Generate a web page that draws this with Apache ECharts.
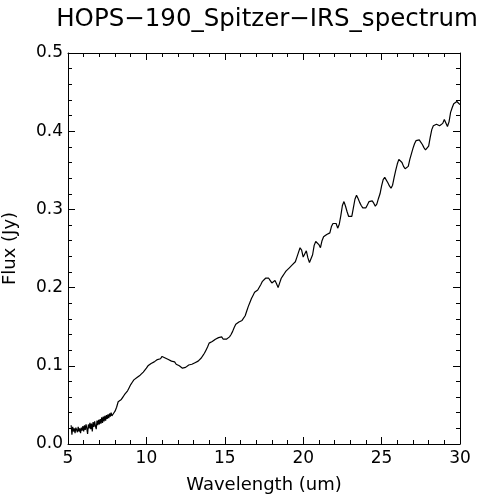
<!DOCTYPE html>
<html>
<head>
<meta charset="utf-8">
<script src="https://cdn.jsdelivr.net/npm/echarts@6/dist/echarts.min.js"></script>
<style>
  html, body { margin: 0; padding: 0; background: #fff; }
  #chart { width: 479px; height: 500px; }
</style>
</head>
<body>
<div id="chart"></div>
<script>
var titleText = 'HOPS\u2212190_Spitzer\u2212IRS_spectrum';
var xName = 'Wavelength (um)';
var yName = 'Flux (Jy)';

// wavelength in um
var wavelength = [
  5.20,5.25,5.30,5.35,5.40,5.45,5.50,5.55,5.60,5.65,5.70,5.75,5.80,5.85,5.90,5.95,
  6.00,6.05,6.10,6.15,6.20,6.25,6.30,6.35,6.40,6.45,6.50,6.55,6.60,6.65,6.70,6.75,6.80,6.85,6.90,6.95,
  7.00,7.05,7.10,7.15,7.20,7.25,7.30,7.35,7.40,7.45,7.50,7.55,7.60,7.65,7.70,7.75,7.80,7.85,7.90,7.95,
  8.0,8.1,8.2,8.3,8.4,8.5,8.6,8.7,8.8,8.9,
  9.0,9.1,9.2,9.3,9.4,9.5,9.6,9.7,9.8,9.9,
  10.0,10.1,10.2,10.3,10.4,10.5,10.6,10.7,10.8,10.9,
  11.0,11.1,11.2,11.3,11.4,11.5,11.6,11.7,11.8,11.9,
  12.0,12.1,12.2,12.3,12.4,12.5,12.6,12.7,12.8,12.9,
  13.0,13.1,13.2,13.3,13.4,13.5,13.6,13.7,13.8,13.9,
  14.0,14.1,14.2,14.3,14.4,14.5,14.6,14.7,14.8,14.9,
  15.0,15.1,15.2,15.3,15.4,15.5,15.6,15.7,15.8,15.9,
  16.0,16.1,16.2,16.3,16.4,16.5,16.6,16.7,16.8,16.9,
  17.0,17.1,17.2,17.3,17.4,17.5,17.6,17.7,17.8,17.9,
  18.0,18.1,18.2,18.3,18.4,18.5,18.6,18.7,18.8,18.9,
  19.0,19.1,19.2,19.3,19.4,19.5,19.6,19.7,19.8,19.9,
  20.0,20.1,20.2,20.3,20.4,20.5,20.6,20.7,20.8,20.9,
  21.0,21.1,21.2,21.3,21.4,21.5,21.6,21.7,21.8,21.9,
  22.0,22.1,22.2,22.3,22.4,22.5,22.6,22.7,22.8,22.9,
  23.0,23.1,23.2,23.3,23.4,23.5,23.6,23.7,23.8,23.9,
  24.0,24.1,24.2,24.3,24.4,24.5,24.6,24.7,24.8,24.9,
  25.0,25.1,25.2,25.3,25.4,25.5,25.6,25.7,25.8,25.9,
  26.0,26.1,26.2,26.3,26.4,26.5,26.6,26.7,26.8,26.9,
  27.0,27.1,27.2,27.3,27.4,27.5,27.6,27.7,27.8,27.9,
  28.0,28.1,28.2,28.3,28.4,28.5,28.6,28.7,28.8,28.9,
  29.0,29.1,29.2,29.3,29.4,29.5,29.6,29.7,29.8,29.9,30.0
];

// flux in Jy
var flux = [
  0.024,0.012,0.022,0.016,0.020,0.014,0.021,0.018,0.015,0.022,0.016,0.020,0.014,0.021,0.017,0.023,
  0.016,0.024,0.018,0.025,0.020,0.013,0.025,0.020,0.027,0.019,0.026,0.016,0.028,0.022,0.029,0.023,0.019,0.030,0.024,0.031,
  0.025,0.032,0.026,0.034,0.027,0.035,0.029,0.036,0.030,0.037,0.032,0.038,0.033,0.039,0.035,0.040,0.036,0.038,0.039,0.041,
  0.042,0.047,0.054,0.056,0.057,0.060,0.063,0.065,0.068,0.072,
  0.076,0.079,0.082,0.083,0.085,0.086,0.088,0.089,0.092,0.094,
  0.097,0.100,0.102,0.103,0.104,0.105,0.107,0.108,0.110,0.109,
  0.112,0.111,0.110,0.109,0.108,0.107,0.106,0.104,0.105,0.102,
  0.101,0.100,0.098,0.097,0.099,0.098,0.100,0.101,0.100,0.102,
  0.103,0.104,0.106,0.106,0.108,0.110,0.113,0.116,0.120,0.124,
  0.129,0.131,0.131,0.132,0.134,0.135,0.136,0.137,0.137,0.134,
  0.133,0.134,0.136,0.137,0.140,0.144,0.149,0.153,0.155,0.156,
  0.157,0.158,0.160,0.164,0.170,0.176,0.181,0.186,0.190,0.194,
  0.196,0.197,0.199,0.204,0.208,0.210,0.212,0.213,0.212,0.209,
  0.206,0.207,0.209,0.205,0.200,0.206,0.212,0.215,0.218,0.221,
  0.223,0.225,0.227,0.229,0.231,0.233,0.239,0.245,0.251,0.248,
  0.239,0.241,0.247,0.238,0.232,0.231,0.242,0.254,0.259,0.260,
  0.255,0.251,0.260,0.265,0.267,0.268,0.268,0.270,0.278,0.282,
  0.284,0.282,0.276,0.281,0.292,0.305,0.310,0.304,0.297,0.291,
  0.289,0.291,0.302,0.313,0.318,0.314,0.309,0.305,0.302,0.300,
  0.302,0.306,0.310,0.312,0.311,0.308,0.304,0.307,0.314,0.320,
  0.330,0.338,0.341,0.339,0.334,0.330,0.327,0.331,0.341,0.350,
  0.358,0.364,0.364,0.360,0.355,0.352,0.350,0.355,0.364,0.371,
  0.378,0.384,0.388,0.389,0.389,0.387,0.383,0.379,0.376,0.377,
  0.381,0.392,0.402,0.407,0.409,0.409,0.408,0.407,0.406,0.410,
  0.415,0.413,0.406,0.412,0.424,0.430,0.435,0.437,0.438,0.437,0.434
];

var xTicks = [5, 30, 5];    // min, max, interval
var yTicks = [0, 0.5, 0.1];

var chart = echarts.init(document.getElementById('chart'), null, { renderer: 'canvas' });

var points = wavelength.map(function (w, i) { return [w, flux[i]]; });

var font = 'DejaVu Sans, Verdana, sans-serif';
var axisLine = { show: true, onZero: false, lineStyle: { color: '#000', width: 1 } };
var tick = { show: true, inside: true, length: 7, lineStyle: { color: '#000', width: 1 } };
var minor = { show: true, splitNumber: 5, length: 4, lineStyle: { color: '#000', width: 1 } };

function xAxis(pos, labels) {
  return {
    type: 'value', position: pos,
    min: xTicks[0], max: xTicks[1], interval: xTicks[2],
    name: labels ? xName : '', nameLocation: 'middle', nameGap: 32,
    nameTextStyle: { color: '#000', fontSize: 18, fontFamily: font },
    axisLine: axisLine, axisTick: tick, minorTick: minor,
    axisLabel: { show: labels, color: '#000', fontSize: 17, fontFamily: font, margin: 6 },
    splitLine: { show: false }
  };
}
function yAxis(pos, labels) {
  return {
    type: 'value', position: pos,
    min: yTicks[0], max: yTicks[1], interval: yTicks[2],
    name: labels ? yName : '', nameLocation: 'middle', nameGap: 49,
    nameTextStyle: { color: '#000', fontSize: 18, fontFamily: font },
    axisLine: axisLine, axisTick: tick, minorTick: minor,
    axisLabel: {
      show: labels, color: '#000', fontSize: 17, fontFamily: font, margin: 5,
      formatter: function (v) { return v.toFixed(1); }
    },
    splitLine: { show: false }
  };
}

var option = {
  backgroundColor: '#fff',
  animation: false,
  title: {
    text: titleText,
    left: 262, top: 2, textAlign: 'center',
    textStyle: { color: '#000', fontSize: 24.5, fontWeight: 'normal', fontFamily: font }
  },
  grid: { left: 68, top: 53, right: 19, bottom: 56, outerBoundsMode: 'none' },
  xAxis: [xAxis('bottom', true), xAxis('top', false)],
  yAxis: [yAxis('left', true), yAxis('right', false)],
  series: [{
    type: 'line',
    data: points,
    xAxisIndex: 0, yAxisIndex: 0,
    showSymbol: false,
    lineStyle: { color: '#000', width: 1.2 },
    clip: true
  }]
};

chart.setOption(option);
</script>
</body>
</html>
